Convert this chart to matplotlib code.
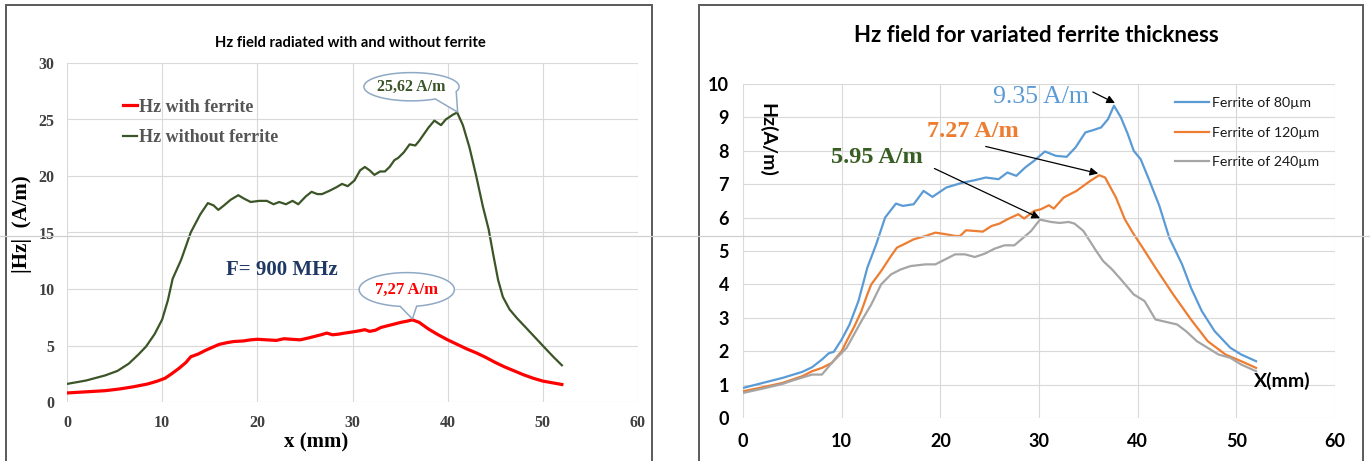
import numpy as np
import matplotlib
matplotlib.use("Agg")
import matplotlib.pyplot as plt
from matplotlib.patches import Rectangle, Polygon
from matplotlib.lines import Line2D

# ---- left panel data ----
with_x = [0, 2, 4, 5.5, 7, 8.5, 9.5, 10.3, 11, 11.8, 12.5, 13, 13.8, 14.5, 15.3, 16, 16.8,
          17.5, 18.5, 19.3, 20, 21, 22, 22.8, 23.6, 24.5, 25.3, 26, 26.7, 27.3, 27.9, 28.5,
          29.2, 30, 30.7, 31.3, 31.8, 32.4, 33, 33.7, 34.4, 35.1, 35.7, 36.3, 37, 38, 39, 40,
          41, 42, 43, 44, 45, 46, 47, 48, 49, 50, 51, 52]
with_y = [0.8, 0.9, 1.0, 1.15, 1.35, 1.6, 1.85, 2.1, 2.5, 3.0, 3.5, 4.0, 4.25, 4.55, 4.85,
          5.1, 5.25, 5.35, 5.4, 5.5, 5.55, 5.5, 5.45, 5.6, 5.55, 5.5, 5.65, 5.8, 5.95, 6.1,
          5.95, 6.0, 6.1, 6.2, 6.3, 6.4, 6.25, 6.35, 6.6, 6.75, 6.9, 7.05, 7.15, 7.27, 7.05,
          6.45, 5.95, 5.5, 5.1, 4.7, 4.35, 3.95, 3.5, 3.1, 2.75, 2.4, 2.1, 1.85, 1.7, 1.55]

without_x = [0, 2, 4, 5.3, 6.5, 7.5, 8.3, 9.2, 10, 10.6, 11.1, 12, 13, 14, 14.8, 15.4, 15.9,
             16.5, 17.2, 18, 18.6, 19.3, 20.2, 21, 21.7, 22.3, 23, 23.7, 24.3, 25.1, 25.7,
             26.3, 26.8, 27.6, 28.3, 28.9, 29.5, 30.2, 30.8, 31.3, 31.8, 32.3, 32.9, 33.4,
             33.9, 34.4, 34.8, 35.4, 36.0, 36.6, 37.0, 37.5, 38.0, 38.6, 39.3, 39.8, 40.5,
             41.0, 41.6, 42.3, 43.0, 43.7, 44.3, 44.8, 45.3, 45.8, 46.5, 47.3, 48.2, 49.2,
             50.2, 51.1, 52.0]
without_y = [1.6, 1.9, 2.35, 2.75, 3.4, 4.2, 4.9, 6.0, 7.3, 9.0, 10.9, 12.6, 15.0, 16.6,
             17.6, 17.4, 17.0, 17.4, 17.9, 18.3, 18.0, 17.7, 17.8, 17.8, 17.5, 17.7, 17.5,
             17.8, 17.5, 18.2, 18.6, 18.4, 18.4, 18.7, 19.0, 19.3, 19.1, 19.6, 20.5, 20.8,
             20.5, 20.1, 20.4, 20.4, 20.8, 21.4, 21.6, 22.1, 22.8, 22.7, 23.1, 23.7, 24.3,
             24.9, 24.5, 25.0, 25.4, 25.62, 24.5, 22.5, 20.0, 17.3, 15.3, 13.0, 10.8, 9.3,
             8.2, 7.4, 6.6, 5.7, 4.8, 4.0, 3.25]

# ---- right panel data ----
f80_x = [0, 2, 4, 6, 7, 8, 8.7, 9.2, 10, 10.8, 11.7, 12.6, 13.5, 14.4, 15.5, 16.2, 17.3,
         18.3, 19.2, 20.6, 22.3, 23.5, 24.6, 25.9, 26.8, 27.7, 28.6, 29.5, 30.6, 31.7,
         32.8, 33.7, 34.7, 35.5, 36.3, 37.0, 37.6, 38.3, 39.0, 39.6, 40.3, 41.2, 42.2,
         43.2, 44.5, 45.4, 46.5, 47.8, 49.4, 50.5, 52]
f80_y = [0.9, 1.05, 1.2, 1.38, 1.52, 1.75, 1.94, 1.98, 2.35, 2.8, 3.5, 4.5, 5.2, 6.0, 6.42,
         6.35, 6.4, 6.8, 6.62, 6.9, 7.05, 7.12, 7.2, 7.15, 7.35, 7.25, 7.5, 7.7, 7.98, 7.85,
         7.82, 8.1, 8.55, 8.62, 8.7, 8.95, 9.35, 9.0, 8.5, 8.0, 7.75, 7.1, 6.35, 5.4, 4.6,
         3.9, 3.2, 2.6, 2.1, 1.9, 1.7]

f120_x = [0, 2, 4, 6, 7, 8, 9, 10, 10.5, 11.3, 12, 12.6, 13, 14, 15, 15.6, 16.3, 17.3,
          18.5, 19.5, 20.6, 21.5, 22, 22.6, 23.5, 24.3, 25.2, 26, 26.8, 27.9, 28.5, 29.5,
          30.2, 31, 31.5, 32.5, 33.8, 35.2, 36.1, 36.7, 37.8, 38.7, 39.5, 40.5, 41.8, 43.6,
          45.4, 47.1, 48.9, 50.5, 52]
f120_y = [0.8, 0.92, 1.05, 1.25, 1.4, 1.5, 1.65, 2.0, 2.3, 2.75, 3.2, 3.7, 4.0, 4.4, 4.85,
          5.1, 5.2, 5.35, 5.45, 5.55, 5.5, 5.45, 5.45, 5.62, 5.6, 5.58, 5.75, 5.82, 5.95,
          6.1, 5.97, 6.2, 6.25, 6.37, 6.27, 6.6, 6.8, 7.1, 7.27, 7.2, 6.6, 5.95, 5.55, 5.1,
          4.5, 3.7, 2.95, 2.3, 1.9, 1.7, 1.5]

f240_x = [0, 2, 4, 5, 7, 8, 9, 10.5, 12, 13, 14, 15, 16, 17, 18.5, 19.5, 20.5, 21.5, 22.5,
          23.5, 24.5, 25.5, 26.5, 27.5, 28.5, 29.2, 30.1, 31.2, 32.1, 33, 33.6, 34.5, 35.8,
          36.5, 37.4, 38.3, 39.6, 40.7, 41.8, 44, 44.9, 46, 47.1, 48.2, 49.4, 50.5, 52]
f240_y = [0.75, 0.88, 1.02, 1.12, 1.3, 1.3, 1.65, 2.1, 2.9, 3.4, 4.0, 4.3, 4.45, 4.55, 4.6,
          4.6, 4.75, 4.9, 4.9, 4.82, 4.92, 5.07, 5.17, 5.17, 5.42, 5.6, 5.94, 5.87, 5.84,
          5.87, 5.82, 5.6, 5.0, 4.7, 4.45, 4.15, 3.7, 3.5, 2.95, 2.8, 2.6, 2.3, 2.1, 1.9,
          1.8, 1.6, 1.4]

SERIF = "Liberation Serif"
SANS = "Lato"
GRID = "#d9d9d9"

fig = plt.figure(figsize=(13.7, 4.61), dpi=100)


def bubble(ax, cx, cy, a, b, t1, t2, tip, edge="#8fa9c4"):
    # ellipse callout with a tail going to tip
    t = np.linspace(0, 360, 361)
    keep = ~((t > t1) & (t < t2))
    tt = np.radians(t[keep])
    px = cx + a * np.cos(tt)
    py = cy + b * np.sin(tt)
    pts = list(zip(px, py))
    idx = int(np.searchsorted(t[keep], t1, side="right"))
    pts.insert(idx, tip)
    ax.add_patch(Polygon(pts, closed=True, facecolor="white", edgecolor=edge,
                         lw=1.1, zorder=5))


# ================= left panel =================
axL = fig.add_axes([67 / 1370, 1 - 402 / 461, 571 / 1370, 339 / 461])
axL.plot(with_x, with_y, color="#ff0000", lw=2.3, label="Hz with ferrite", zorder=3)
axL.plot(without_x, without_y, color="#3b5527", lw=1.6, label="Hz without ferrite", zorder=3)
axL.set_xlim(0, 60)
axL.set_ylim(0, 30)
axL.set_xticks(range(0, 61, 10))
axL.set_yticks(range(0, 31, 5))
axL.grid(True, color=GRID, lw=0.8)
axL.set_axisbelow(True)
for s in axL.spines.values():
    s.set_visible(False)
axL.tick_params(length=0, labelsize=11.5, labelcolor="#3f3f3f")
axL.tick_params(axis="y", pad=9)
axL.tick_params(axis="x", pad=9)
for lab in axL.get_xticklabels() + axL.get_yticklabels():
    lab.set_fontfamily(SERIF)
    lab.set_fontweight("bold")

legL = axL.legend(loc="upper left", bbox_to_anchor=(0.098, 0.895), frameon=False,
                  handlelength=0.8, handletextpad=0.1, labelspacing=0.75,
                  borderaxespad=0, borderpad=0,
                  prop={"family": SERIF, "weight": "bold", "size": 13},
                  labelcolor="#555555")

axL.text(22.6, 11.7, "F= 900 MHz", ha="center", va="center", color="#1f3864",
         fontsize=15, fontweight="bold", family=SERIF)

bubble(axL, 36.2, 27.9, 5.0, 1.25, 300, 340, (41.05, 25.65))
axL.text(36.2, 27.9, "25,62 A/m", ha="center", va="center", color="#3b5527",
         fontsize=11.5, fontweight="bold", family=SERIF, zorder=6)
bubble(axL, 35.7, 9.95, 5.0, 1.5, 262, 282, (36.3, 7.35))
axL.text(35.7, 9.95, "7,27 A/m", ha="center", va="center", color="#ff0000",
         fontsize=12, fontweight="bold", family=SERIF, zorder=6)

fig.text(350 / 1370, 1 - 43 / 461, "Hz field radiated with and without ferrite",
         ha="center", va="center", fontsize=10.6, fontweight="bold", family=SANS)
fig.text(316 / 1370, 1 - 442 / 461, "x (mm)", ha="center", va="center",
         fontsize=15, fontweight="bold", family=SERIF)
fig.text(22 / 1370, 1 - 224 / 461, "|Hz|  (A/m)", ha="center", va="center",
         rotation=90, fontsize=15, fontweight="bold", family=SERIF)

# ================= right panel =================
axR = fig.add_axes([743 / 1370, 1 - 418 / 461, 592 / 1370, 334 / 461])
axR.plot(f80_x, f80_y, color="#5b9bd5", lw=1.6, label="Ferrite of 80\u00b5m", zorder=3)
axR.plot(f120_x, f120_y, color="#ed7d31", lw=1.6, label="Ferrite of 120\u00b5m", zorder=3)
axR.plot(f240_x, f240_y, color="#a5a5a5", lw=1.6, label="Ferrite of 240\u00b5m", zorder=3)
axR.set_xlim(0, 60)
axR.set_ylim(0, 10)
axR.set_xticks(range(0, 61, 10))
axR.set_yticks(range(0, 11, 1))
axR.grid(True, color=GRID, lw=0.8)
axR.set_axisbelow(True)
for s in axR.spines.values():
    s.set_visible(False)
axR.tick_params(length=0, labelsize=13, labelcolor="black")
axR.tick_params(axis="y", pad=10)
axR.tick_params(axis="x", pad=11)
for lab in axR.get_xticklabels() + axR.get_yticklabels():
    lab.set_fontfamily(SANS)
    lab.set_fontweight("bold")

legR = axR.legend(loc="upper left", bbox_to_anchor=(0.73, 0.96), frameon=False,
                  handlelength=2.4, handletextpad=0.2, labelspacing=1.22,
                  borderaxespad=0, borderpad=0,
                  prop={"family": SANS, "size": 10.2}, labelcolor="#1a1a1a")

arrow = dict(arrowstyle="-|>", color="black", lw=0.9, mutation_scale=12,
             shrinkA=0, shrinkB=0)
axR.text(30.2, 9.61, "9.35 A/m", ha="center", va="center", color="#5b9bd5",
         fontsize=18.5, family=SERIF)
axR.annotate("", xy=(37.7, 9.43), xytext=(35.45, 9.76), arrowprops=arrow)
axR.text(23.3, 8.57, "7.27 A/m", ha="center", va="center", color="#ed7d31",
         fontsize=17.5, fontweight="bold", family=SERIF)
axR.annotate("", xy=(36.0, 7.32), xytext=(24.6, 8.13), arrowprops=arrow)
axR.text(13.6, 7.8, "5.95 A/m", ha="center", va="center", color="#375f23",
         fontsize=17.5, fontweight="bold", family=SERIF)
axR.annotate("", xy=(30.1, 5.98), xytext=(19.4, 7.47), arrowprops=arrow)

fig.text(1036 / 1370, 1 - 35 / 461, "Hz field for variated ferrite thickness",
         ha="center", va="center", fontsize=16, fontweight="bold", family=SANS)
fig.text(767 / 1370, 1 - 140 / 461, "Hz(A/m)", ha="center", va="center",
         rotation=-90, fontsize=14, fontweight="bold", family=SANS)
fig.text(1282 / 1370, 1 - 381 / 461, "X(mm)", ha="center", va="center",
         fontsize=14, fontweight="bold", family=SANS)

# ---- panel frames and the scan line ----
for x0, x1 in [(6, 652), (699, 1363)]:
    fig.add_artist(Rectangle((x0 / 1370, -0.05), (x1 - x0) / 1370, 1 - 5 / 461 + 0.05,
                             transform=fig.transFigure, fill=False,
                             edgecolor="#5a5a5a", lw=1.4))
fig.add_artist(Line2D([0, 1], [1 - 236 / 461] * 2, transform=fig.transFigure,
                      color="#d0d0d0", lw=0.9))

fig.savefig("out.png", dpi=100)
